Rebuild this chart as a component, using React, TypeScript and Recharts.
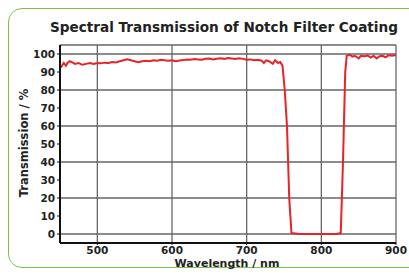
import { LineChart, Line, XAxis, YAxis, CartesianGrid } from 'recharts';

const wavelengths = [
  450, 452, 455, 458, 460, 463, 466, 470, 475, 480, 485, 490, 495, 500, 505, 510, 515, 520, 525, 530,
  535, 540, 545, 550, 555, 560, 565, 570, 575, 580, 585, 590, 595, 600, 605, 610, 615, 620, 625, 630,
  635, 640, 645, 650, 655, 660, 665, 670, 675, 680, 685, 690, 695, 700, 705, 710, 715, 720, 723, 726,
  730, 735, 738, 742, 745, 748, 751, 754, 757, 760, 770, 780, 790, 800, 810, 820, 826, 829, 832, 834,
  838, 842, 845, 850, 853, 858, 862, 866, 870, 874, 878, 882, 886, 890, 895, 900,
];
const transmission = [
  94, 93, 95, 93.5, 95, 96, 95.5, 94.5, 95, 94, 94.5, 95, 94.5, 95, 94.8, 95.2, 95, 95.5, 95.3, 96,
  96.5, 97, 96.5, 96, 95.5, 96, 96.3, 96, 96.5, 96.3, 96.8, 96.5, 96.3, 96.5, 96, 96.4, 96.6, 97, 96.8, 97.2,
  97, 96.8, 97.3, 97.5, 97, 97.4, 97.6, 97.3, 97.8, 97.5, 97.2, 97.6, 97.3, 96.8, 97, 96.5, 96.8, 96.3, 95, 96.5,
  96, 94.5, 96.5, 95, 95.5, 93.5, 80, 60, 20, 0.5, 0, 0, 0, 0, 0, 0, 0.5, 40, 90, 99,
  99.5, 98.5, 99, 97.5, 99, 98.7, 99.2, 98, 99, 97.5, 98.8, 99, 98.2, 99.3, 99, 99.5,
];
const xTicks = [500, 600, 700, 800, 900];
const yTicks = [0, 10, 20, 30, 40, 50, 60, 70, 80, 90, 100];

const data = wavelengths.map((w, i) => ({ w, t: transmission[i] }));

const font = "'DejaVu Sans', sans-serif";
const tickStyle = { fontSize: 10.5, fontWeight: 700, fill: '#222', fontFamily: font };

export default function App() {
  return (
    <div style={{ position: 'absolute', left: 0, top: 0, width: 409, height: 280, overflow: 'hidden', background: '#fff' }}>
      <div
        style={{
          position: 'absolute', left: 8, top: 8, width: 420, height: 260,
          border: '1.5px solid #7cc24a', borderRadius: 14, boxSizing: 'border-box',
        }}
      />
      <div
        style={{
          position: 'absolute', left: 50, top: 19, whiteSpace: 'nowrap',
          fontFamily: font, fontWeight: 700, fontSize: 13.6, color: '#222',
        }}
      >
        Spectral Transmission of Notch Filter Coating
      </div>
      <div
        style={{
          position: 'absolute', left: 227 - 100, width: 200, top: 257, lineHeight: '13px', textAlign: 'center',
          fontFamily: font, fontWeight: 700, fontSize: 11, color: '#222',
        }}
      >
        Wavelength / nm
      </div>
      <div
        style={{
          position: 'absolute', left: 24 - 100, top: 143 - 7, width: 200, lineHeight: '14px', textAlign: 'center',
          transform: 'rotate(-90deg)', fontFamily: font, fontWeight: 700, fontSize: 11.5, color: '#222',
        }}
      >
        Transmission / %
      </div>
      <LineChart width={409} height={280} data={data} margin={{ top: 45, right: 13, left: 0, bottom: 0 }}>
        <CartesianGrid xAxisId="b" yAxisId="l" stroke="#666" strokeWidth={1.3} />
        <XAxis
          xAxisId="b"
          dataKey="w"
          type="number"
          domain={[450, 900]}
          ticks={xTicks}
          height={37}
          tick={tickStyle}
          tickSize={2}
          axisLine={{ stroke: '#111', strokeWidth: 2 }}
          tickLine={{ stroke: '#111' }}
          allowDataOverflow
        />
        <XAxis xAxisId="t" orientation="top" dataKey="w" type="number" domain={[450, 900]} ticks={xTicks} height={0} tick={false} tickLine={false} axisLine={{ stroke: '#111', strokeWidth: 2 }} />
        <YAxis
          yAxisId="l"
          type="number"
          domain={[-5, 105]}
          ticks={yTicks}
          width={60}
          tick={tickStyle}
          tickSize={3}
          axisLine={{ stroke: '#111', strokeWidth: 2 }}
          tickLine={{ stroke: '#111' }}
          allowDataOverflow
        />
        <YAxis yAxisId="r" orientation="right" type="number" domain={[-5, 105]} ticks={yTicks} width={0} tick={false} tickLine={false} axisLine={{ stroke: '#111', strokeWidth: 2 }} />
        <Line
          xAxisId="b"
          yAxisId="l"
          dataKey="t"
          type="linear"
          stroke="#e8232a"
          strokeWidth={2}
          dot={false}
          isAnimationActive={false}
        />
      </LineChart>
    </div>
  );
}
